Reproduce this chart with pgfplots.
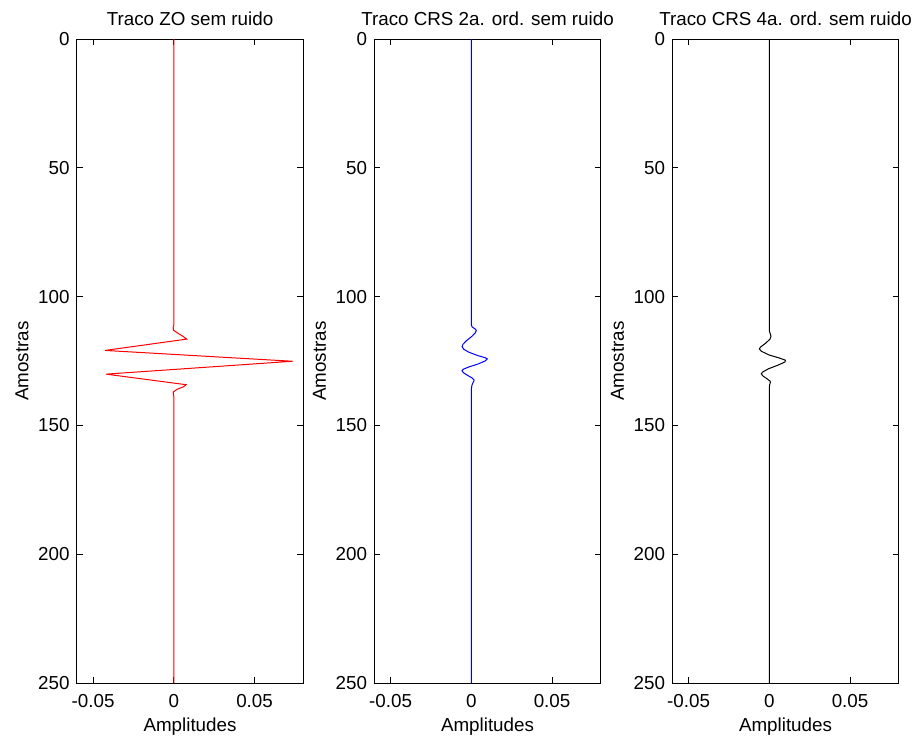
\documentclass[border=0pt]{standalone}
\usepackage{fontspec}
\setmainfont{Liberation Sans}
\usepackage{pgfplots}
\pgfplotsset{compat=1.18}
\pgfplotsset{
  trace/.style={
    scale only axis, width=113pt, height=322pt, anchor=south west,
    xmin=-0.06, xmax=0.08, ymin=0, ymax=250, y dir=reverse,
    scaled x ticks=false, scaled y ticks=false,
    xtick={-0.05,0,0.05}, xticklabels={-0.05,0,0.05},
    ytick={0,50,100,150,200,250}, yticklabels={0,50,100,150,200,250},
    tick align=inside, major tick length=2.8pt,
    xtick pos=both, ytick pos=both,
    xticklabel pos=lower, yticklabel pos=left,
    font=\fontsize{9.4}{11}\selectfont,
    axis line style={line width=0.5pt, black},
    every tick/.style={black, line width=0.5pt},
    xticklabel style={inner sep=0pt, anchor=north, yshift=-5.5pt},
    yticklabel style={inner sep=0pt, anchor=east, xshift=-3.5pt},
    xlabel=Amplitudes, ylabel=Amostras,
    xlabel style={at={(axis description cs:0.5,-0.0528)}, anchor=north, inner sep=0pt},
    ylabel style={at={(axis description cs:-0.2434,0.5)}, anchor=center, inner sep=0pt},
    every axis title shift=0pt,
    title style={at={(axis description cs:0.5,1.0217)}, anchor=base, inner sep=0pt},
  }
}
\pgfplotstableread{
x y
0 0
0 111
-0.0004 112
-0.0003 113
0.002 114
0.0058 115.5
0.008 116.5
-0.0426 120.9
0.0735 125.1
-0.0420 130.1
0.0076 134.2
0.0060 135.0
0.0020 136.0
-0.0003 137.0
-0.0002 138.0
0 139
0 250
}\zo
\pgfplotstableread{
x y
0 0
0 111
0.0005 111.8
0.0022 112.5
0.0031 113.1
0.0025 114.0
0.0004 115.4
-0.0030 117.1
-0.0052 118.5
-0.0057 119.4
-0.0048 120.4
-0.0015 121.6
0.0040 122.9
0.0085 123.7
0.0099 124.2
0.0085 125.0
0.0040 126.2
-0.0015 127.3
-0.0050 128.2
-0.0058 128.8
-0.0048 129.6
-0.0020 130.7
0.0005 131.6
0.0015 132.2
0.0017 132.5
0.0012 133.2
0.0004 134.3
0 135.8
0 250
}\crstwo
\pgfplotstableread{
x y
0 0
0 113.4
0.0006 114.5
0.0010 115.4
0.0004 116.5
-0.0025 118.2
-0.0055 119.6
-0.0062 120.3
-0.0050 121.2
-0.0005 122.6
0.0060 123.8
0.0100 124.7
0.0096 125.4
0.0050 126.7
-0.0005 128.0
-0.0042 129.3
-0.0050 130.0
-0.0040 130.8
-0.0012 132.0
0.0004 132.8
0.0006 133.3
0.0002 134.2
0 135.2
0 250
}\crsfour
\begin{document}
\begin{tikzpicture}[x=1pt,y=1pt]
\path[use as bounding box] (0,0) rectangle (458.5,369.5);
\begin{axis}[trace, at={(38.5pt,28pt)}, title={Traco ZO sem ruido}]
\addplot[red, line width=0.5pt] table[x=x,y=y] {\zo};
\end{axis}
\begin{axis}[trace, at={(187.25pt,28pt)}, title={Traco CRS 2a. ord. sem ruido}]
\addplot[blue, line width=0.5pt] table[x=x,y=y] {\crstwo};
\end{axis}
\begin{axis}[trace, at={(336.25pt,28pt)}, title={Traco CRS 4a. ord. sem ruido}]
\addplot[black, line width=0.5pt] table[x=x,y=y] {\crsfour};
\end{axis}
\end{tikzpicture}
\end{document}
